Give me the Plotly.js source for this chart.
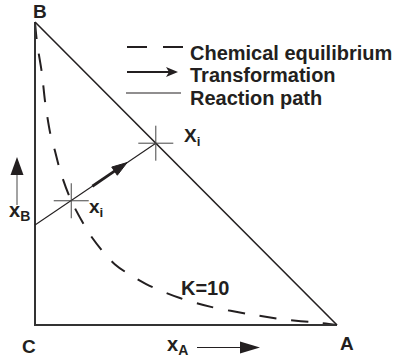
<!DOCTYPE html>
<html>
<head>
<meta charset="utf-8">
<script src="https://cdn.plot.ly/plotly-3.0.1.min.js"></script>
<style>
  html, body { margin: 0; padding: 0; background: #fff; }
  #chart { width: 398px; height: 361px; }
</style>
</head>
<body>
<div id="chart"></div>
<script>
// Composition triangle: mole fraction of A along the bottom edge, of B up the left edge.
const vertexLabels = ['C', 'A', 'B'];
const triXA = [0, 1, 0];
const triXB = [0, 0, 1];

// Chemical equilibrium curve for K = 10
const eqXA = [0, 0.007, 0.023, 0.033, 0.050, 0.066, 0.083, 0.120, 0.190, 0.265, 0.368, 0.480, 0.586, 0.709, 0.824, 0.944, 1];
const eqXB = [1, 0.930, 0.830, 0.740, 0.635, 0.575, 0.510, 0.410, 0.287, 0.200, 0.135, 0.089, 0.059, 0.036, 0.018, 0.007, 0];
const eqLabel = 'K=10';

// Reaction path from the C–B edge to the A–B edge
const pathXA = [0, 0.40];
const pathXB = [0.33, 0.60];

// Marked compositions on the reaction path
const pointLabels = ['x<sub>i</sub>', 'X<sub>i</sub>'];
const pointXA = [0.12, 0.40];
const pointXB = [0.41, 0.60];

// Transformation arrow (tail, head)
const transXA = [0.19, 0.305];
const transXB = [0.458, 0.536];

// Legend entries
const legendText = ['Chemical equilibrium', 'Transformation', 'Reaction path'];

// ---- frame: figure pixels <-> data units ----
const W = 398, H = 361;
const ORIGIN_PX = [35, 325];     // pixel position of C
const UNIT_PX = [302, 303];      // pixels per unit mole fraction
const xRange = [-ORIGIN_PX[0] / UNIT_PX[0], (W - ORIGIN_PX[0]) / UNIT_PX[0]];
const yRange = [-(H - ORIGIN_PX[1]) / UNIT_PX[1], ORIGIN_PX[1] / UNIT_PX[1]];
const px = x => x / W;           // pixel -> paper (x)
const py = y => 1 - y / H;       // pixel -> paper (y)

const INK = '#231f20';
const FONT = 'Liberation Sans, Arial, Helvetica, sans-serif';
const font = size => ({ family: FONT, size: size, color: INK, weight: 700 });

const traces = [
  {
    x: eqXA, y: eqXB, mode: 'lines', hoverinfo: 'skip',
    line: { color: INK, width: 2, dash: '17px,15px', shape: 'spline', smoothing: 0.8 }
  },
  {
    x: [triXA[2], triXA[0], triXA[1]], y: [triXB[2], triXB[0], triXB[1]],
    mode: 'lines', hoverinfo: 'skip', line: { color: '#333', width: 2 }
  },
  {
    x: [triXA[2], triXA[1]], y: [triXB[2], triXB[1]],
    mode: 'lines', hoverinfo: 'skip', line: { color: INK, width: 1.6 }
  },
  {
    x: pathXA, y: pathXB, mode: 'lines', hoverinfo: 'skip',
    line: { color: INK, width: 1.1 }
  },
  {
    x: pointXA, y: pointXB, mode: 'markers', hoverinfo: 'skip',
    marker: { symbol: 'cross-thin', size: 25, color: '#444', line: { color: '#444', width: 1 } }
  },
  {
    // transformation: thick shaft ending in an arrowhead that follows the path direction
    x: transXA, y: transXB, mode: 'lines+markers', hoverinfo: 'skip',
    line: { color: INK, width: 2.8 },
    marker: {
      symbol: ['circle', 'arrow'], size: [0, 16], angleref: 'previous',
      color: INK, opacity: 1, line: { width: 1, color: INK }
    }
  }
];

const annotations = [];

// vertex letters
const vertexShift = { C: [-6, -21], A: [10, -18], B: [5, 11] };
vertexLabels.forEach((t, i) => {
  annotations.push({
    x: triXA[i], y: triXB[i], xref: 'x', yref: 'y', text: t, showarrow: false,
    xanchor: 'center', yanchor: 'middle',
    xshift: vertexShift[t][0], yshift: vertexShift[t][1], font: font(19)
  });
});

// point labels
const pointShift = [[16, -7], [26, 6]];
pointLabels.forEach((t, i) => {
  annotations.push({
    x: pointXA[i], y: pointXB[i], xref: 'x', yref: 'y', text: t, showarrow: false,
    xanchor: 'left', yanchor: 'middle',
    xshift: pointShift[i][0], yshift: pointShift[i][1], font: font(19)
  });
});

const paperText = (x, y, text, size) => ({
  x: px(x), y: py(y), xref: 'paper', yref: 'paper', text: text, showarrow: false,
  xanchor: 'left', yanchor: 'middle', font: font(size)
});

// equilibrium constant label
annotations.push(paperText(179, 288, eqLabel, 20));

// axis labels
annotations.push(paperText(7, 211, 'x<sub>B</sub>', 20));
annotations.push(paperText(165, 345, 'x<sub>A</sub>', 20));

// legend text
const legendY = [53, 75, 98];
legendText.forEach((t, i) => annotations.push(paperText(188, legendY[i], t, 20)));

const pline = (x0, y0, x1, y1, line) => ({
  type: 'line', xref: 'paper', yref: 'paper',
  x0: px(x0), y0: py(y0), x1: px(x1), y1: py(y1), line: line
});
const ppath = pts => ({
  type: 'path', xref: 'paper', yref: 'paper', fillcolor: INK, line: { width: 0 },
  path: 'M' + pts.map(p => px(p[0]) + ',' + py(p[1])).join('L') + 'Z'
});

const shapes = [
  // legend samples
  pline(127, 47, 183, 47, { color: INK, width: 2, dash: '20px,16px' }),
  pline(127, 72, 170, 72, { color: INK, width: 2 }),
  ppath([[166, 67], [178, 72], [166, 77], [169, 72]]),
  pline(126, 93, 181, 93, { color: INK, width: 1.2 }),
  // x_B direction arrow
  pline(17, 205, 17, 173, { color: '#666', width: 1.2 }),
  ppath([[10.5, 175], [17, 157], [23.5, 175]]),
  // x_A direction arrow
  pline(197, 347.5, 242, 347.5, { color: INK, width: 1.2 }),
  ppath([[240, 341.5], [260, 347.5], [240, 353.5]])
];

const layout = {
  width: W, height: H,
  margin: { l: 0, r: 0, t: 0, b: 0 },
  paper_bgcolor: '#fff', plot_bgcolor: '#fff',
  showlegend: false,
  xaxis: { range: xRange, visible: false, fixedrange: true },
  yaxis: { range: yRange, visible: false, fixedrange: true },
  annotations: annotations,
  shapes: shapes
};

Plotly.newPlot('chart', traces, layout, { staticPlot: true, displayModeBar: false });
</script>
</body>
</html>
